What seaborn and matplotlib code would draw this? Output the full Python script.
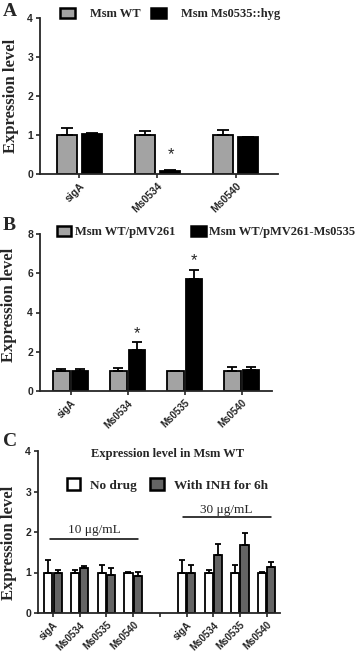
import matplotlib
matplotlib.use("Agg")
import matplotlib.pyplot as plt
import matplotlib.patches as mpatches
import seaborn as sns
import pandas as pd
import numpy as np

sns.set_style("ticks")
plt.rcParams['font.family'] = ['Liberation Sans', 'DejaVu Sans']

# ---------------- data ----------------
a_genes = ["sigA", "Ms0534", "Ms0540"]
a_groups = ["Msm WT", "Msm Ms0535::hyg"]
a_wt = [1.0, 1.0, 1.0]
a_wt_err = [0.19, 0.09, 0.13]
a_mut = [1.03, 0.08, 0.94]
a_mut_err = [0.02, 0.01, 0.01]

b_genes = ["sigA", "Ms0534", "Ms0535", "Ms0540"]
b_groups = ["Msm WT/pMV261", "Msm WT/pMV261-Ms0535"]
b_ctrl = [1.0, 1.0, 1.0, 1.0]
b_ctrl_err = [0.1, 0.17, 0.02, 0.24]
b_over = [1.0, 2.07, 5.72, 1.08]
b_over_err = [0.1, 0.41, 0.45, 0.13]

c_genes = ["sigA", "Ms0534", "Ms0535", "Ms0540"]
c_doses = ["10 μg/mL", "30 μg/mL"]
c_groups = ["No drug", "With INH for 6h"]
c_title = "Expression level in Msm WT"
c_nodrug_10 = [1.0, 1.0, 1.0, 1.0]
c_nodrug_10_err = [0.32, 0.07, 0.18, 0.02]
c_inh_10 = [1.0, 1.1, 0.93, 0.91]
c_inh_10_err = [0.07, 0.06, 0.17, 0.11]
c_nodrug_30 = [1.0, 1.0, 1.0, 1.0]
c_nodrug_30_err = [0.32, 0.07, 0.18, 0.02]
c_inh_30 = [1.0, 1.43, 1.69, 1.13]
c_inh_30_err = [0.18, 0.27, 0.29, 0.13]

ylabel = "Expression level"

serif_bold = dict(family="Liberation Serif", weight="bold")

fig = plt.figure(figsize=(3.58, 6.54), dpi=100)

def draw(ax, keys, groups, vals, errs, order, palette, width, gap, lw, capsize):
    rows = []
    for g, v in zip(groups, vals):
        for k, y in zip(keys, v):
            rows.append({"x": k, "val": y, "grp": g})
    df = pd.DataFrame(rows)
    sns.barplot(data=df, x="x", y="val", hue="grp", order=order, hue_order=groups,
                palette=palette, width=width, gap=gap, errorbar=None,
                edgecolor="black", linewidth=lw, legend=False, ax=ax, saturation=1)
    for cont, err in zip(ax.containers, errs):
        pts = sorted(cont.patches, key=lambda p: p.get_x())
        xs = [p.get_x() + p.get_width() / 2 for p in pts]
        ys = [p.get_height() for p in pts]
        ax.errorbar(xs, ys, yerr=[np.zeros(len(err)), err], fmt="none", ecolor="black",
                    elinewidth=1.3, capsize=capsize, capthick=1.3, zorder=1)
    handles = [mpatches.Patch(facecolor=palette[g], edgecolor="black", linewidth=1.8) for g in groups]
    return handles

def style(ax, ymax, ystep, xlab_size):
    sns.despine(ax=ax)
    for s in ["left", "bottom"]:
        ax.spines[s].set_linewidth(1.3)
    ax.set_ylim(0, ymax)
    ax.set_yticks(np.arange(0, ymax + 0.01, ystep))
    ax.tick_params(axis="both", length=3, width=1.2, direction="out", pad=2)
    for t in ax.get_yticklabels():
        t.set_fontsize(7.5)
        t.set_fontweight("bold")
    for t in ax.get_xticklabels():
        t.set_fontsize(xlab_size)
        t.set_fontweight("bold")
        t.set_rotation(45)
        t.set_ha("right")
        t.set_rotation_mode("anchor")
    ax.set_xlabel("")
    ax.set_ylabel(ylabel, fontsize=12, **serif_bold)

# ---------------- panel A ----------------
axA = fig.add_axes([40/358, 1-174/654, 238/358, 156/654])
palA = {a_groups[0]: "#a3a3a3", a_groups[1]: "#000000"}
hA = draw(axA, a_genes, a_groups, [a_wt, a_mut], [a_wt_err, a_mut_err], a_genes,
          palA, 0.64, 0.2, 1.3, 4.5)
axA.set_xlim(-0.5, 2.54)
style(axA, 4, 1, 7.5)
axA.yaxis.set_label_coords(-0.09, 0.5)
axA.text(1.17, 0.49, "*", ha="center", va="center", fontsize=12)
axA.legend(hA, a_groups, loc="center", bbox_to_anchor=(0.547, 1.026), ncol=2, frameon=False,
           prop=dict(size=9, **serif_bold), handlelength=1.15, handleheight=0.85,
           handletextpad=1.2, columnspacing=0.9, borderaxespad=0, borderpad=0)
fig.text(3/358, 1-3/654, "A", ha="left", va="top", fontsize=14, **serif_bold)

# ---------------- panel B ----------------
axB = fig.add_axes([40/358, 1-391/654, 232/358, 157/654])
palB = {b_groups[0]: "#a3a3a3", b_groups[1]: "#000000"}
hB = draw(axB, b_genes, b_groups, [b_ctrl, b_over], [b_ctrl_err, b_over_err], b_genes,
          palB, 0.66, 0.12, 1.3, 3.6)
axB.set_xlim(-0.54, 3.53)
style(axB, 8, 2, 7)
axB.yaxis.set_label_coords(-0.1, 0.55)
axB.text(1.17, 2.94, "*", ha="center", va="center", fontsize=12)
axB.text(2.17, 6.65, "*", ha="center", va="center", fontsize=12)
axB.legend(hB, b_groups, loc="center", bbox_to_anchor=(0.716, 1.013), ncol=2, frameon=False,
           prop=dict(size=9, **serif_bold), handlelength=1.15, handleheight=0.85,
           handletextpad=0.3, columnspacing=1.3, borderaxespad=0, borderpad=0)
fig.text(3/358, 1-217/654, "B", ha="left", va="top", fontsize=14, **serif_bold)

# ---------------- panel C ----------------
axC = fig.add_axes([38/358, 1-613/654, 242/358, 162/654])
palC = {c_groups[0]: "#ffffff", c_groups[1]: "#646464"}
keys = [f"{d}|{g}" for d in c_doses for g in c_genes]
orderC = keys[:4] + ["gap"] + keys[4:]
hC = draw(axC, keys, c_groups,
          [c_nodrug_10 + c_nodrug_30, c_inh_10 + c_inh_30],
          [c_nodrug_10_err + c_nodrug_30_err, c_inh_10_err + c_inh_30_err],
          orderC, palC, 0.69, 0.12, 1.3, 2.2)
axC.set_xlim(-0.56, 8.5)
axC.set_xticks(range(len(orderC)))
axC.set_xticklabels([k.split("|")[1] if "|" in k else "" for k in orderC])
style(axC, 4, 1, 7)
axC.yaxis.set_label_coords(-0.088, 0.435)
axC.plot([-0.11, 3.2], [1.83, 1.83], color="black", lw=1.1)
axC.text(1.55, 2.05, c_doses[0], ha="center", va="center", fontsize=9.5, family="Liberation Serif")
axC.plot([4.85, 8.16], [2.36, 2.36], color="black", lw=1.1)
axC.text(6.5, 2.55, c_doses[1], ha="center", va="center", fontsize=9.5, family="Liberation Serif")
axC.text(0.537, 0.98, c_title, transform=axC.transAxes, ha="center", va="center",
         fontsize=9, **serif_bold)
axC.legend(hC, c_groups, loc="center", bbox_to_anchor=(0.535, 0.79), ncol=2, frameon=False,
           prop=dict(size=9.5, **serif_bold), handlelength=1.0, handleheight=1.0,
           handletextpad=0.8, columnspacing=1.0, borderaxespad=0, borderpad=0)
fig.text(3/358, 1-433/654, "C", ha="left", va="top", fontsize=14, **serif_bold)

fig.savefig("out.png", dpi=100)
